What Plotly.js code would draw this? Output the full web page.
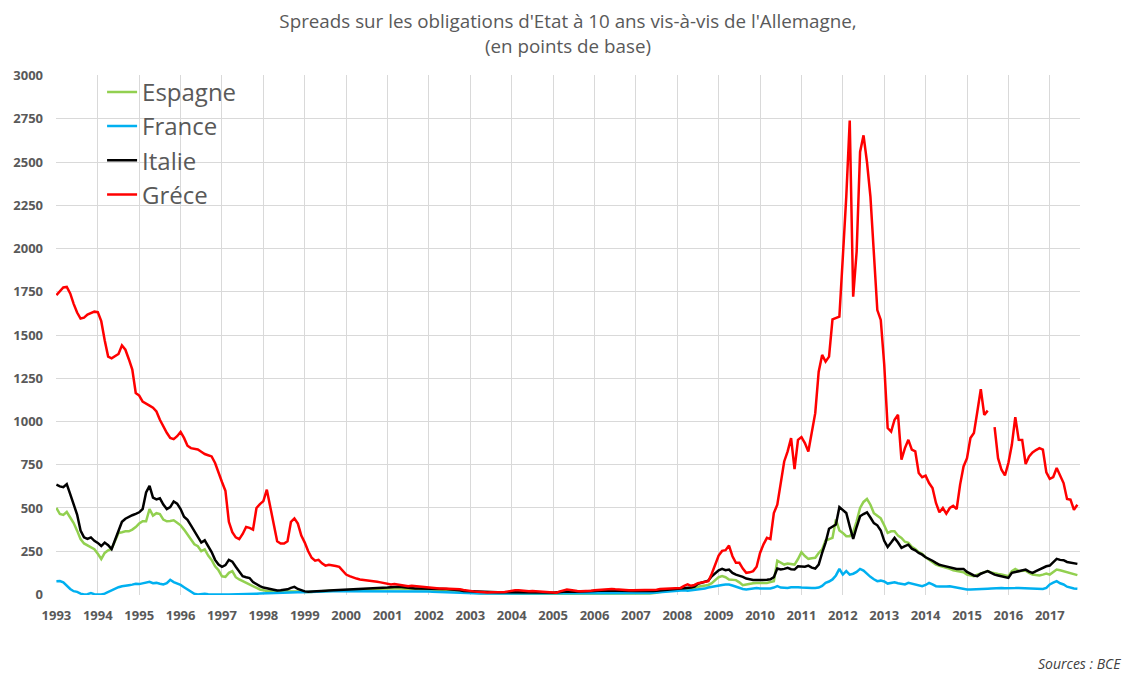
<!DOCTYPE html>
<html>
<head>
<meta charset="utf-8">
<script src="https://cdn.plot.ly/plotly-3.0.1.min.js"></script>
<style>html,body{margin:0;padding:0;background:#fff;}#chart{width:1128px;height:673px;}</style>
</head>
<body>
<div id="chart"></div>
<script>
// Monthly spreads (basis points), January 1993 to September 2017
const seriesNames = ["Espagne", "France", "Italie", "Gréce"];
const yearTicks = [1993,1994,1995,1996,1997,1998,1999,2000,2001,2002,2003,2004,2005,2006,2007,2008,2009,2010,2011,2012,2013,2014,2015,2016,2017];
const valueTicks = [0,250,500,750,1000,1250,1500,1750,2000,2250,2500,2750,3000];

const espagne = [
500,465,460,477,445,413,369,320,295,283,270,262,
235,205,240,255,264,310,356,360,365,365,375,390,
410,423,423,494,456,470,465,433,423,425,429,415,
400,375,346,317,290,279,250,260,225,200,163,140,
105,102,125,135,100,87,78,67,58,48,40,29,
25,19,19,19,19,19,19,20,20,20,19,17,
15,14,15,17,18,18,19,20,20,21,22,22,
22,23,24,25,26,27,28,29,30,31,32,33,
35,36,36,35,34,33,32,31,30,30,29,29,
28,28,27,27,26,26,25,24,22,18,14,12,
10,9,8,7,7,6,6,6,6,6,6,5,
5,5,4,4,4,4,4,3,3,3,2,2,
2,2,2,2,3,2,2,2,1,1,1,1,
2,2,2,2,3,3,2,2,2,2,2,2,
3,3,4,5,6,7,10,15,18,20,22,25,
28,30,33,30,32,35,45,48,50,55,65,80,
100,106,100,87,85,83,70,54,58,63,65,67,
67,67,67,72,77,195,185,173,179,176,173,205,
244,222,206,210,212,240,260,312,320,327,433,370,
356,337,337,360,423,500,535,552,519,470,455,440,
400,356,365,365,340,327,305,298,275,263,245,235,
215,202,185,173,165,160,152,148,140,135,130,129,
115,110,106,115,121,128,135,128,121,118,115,110,
106,135,148,135,136,138,125,115,112,110,115,121,
115,130,144,140,135,128,121,116,112
];

const france = [
77,78,70,48,32,19,15,5,0,2,8,2,
0,0,5,15,25,35,42,48,53,54,57,62,
60,64,68,73,65,67,62,58,65,85,72,65,
55,42,29,12,4,0,2,4,1,0,0,0,
0,0,0,0,0,0,0,1,2,3,4,5,
6,7,8,8,9,10,10,11,12,12,13,13,
14,14,15,15,16,16,17,17,18,18,18,19,
19,19,20,20,20,20,21,21,21,21,21,21,
21,21,21,21,20,20,20,20,19,19,19,18,
17,16,15,14,13,12,11,10,9,8,7,6,
5,5,5,5,5,5,4,4,4,4,4,4,
4,4,4,4,4,4,4,4,4,4,4,4,
4,4,4,4,4,4,4,4,4,4,4,4,
4,4,4,4,4,4,4,4,4,4,4,5,
5,5,6,7,8,10,12,13,14,15,17,18,
20,22,24,22,24,26,28,30,34,40,44,50,
52,55,57,58,52,44,38,32,29,32,36,37,
35,34,33,35,40,48,40,37,38,42,44,42,
40,38,38,37,37,40,50,67,75,87,110,148,
115,135,115,120,130,148,138,118,102,88,77,80,
75,63,67,71,65,60,58,67,62,58,55,48,
55,67,58,48,46,44,46,48,44,40,38,35,
29,29,29,30,31,32,33,34,36,38,37,36,
35,36,37,38,37,35,33,32,30,29,32,38,
58,68,77,65,58,45,38,35,33
];

const italie = [
635,625,620,638,580,520,462,370,330,321,330,310,
298,280,300,285,262,315,370,420,438,450,458,466,
475,494,590,628,560,550,556,520,494,505,538,525,
494,450,432,400,365,330,300,313,280,245,200,173,
160,170,200,190,160,130,106,100,95,72,58,48,
40,35,32,27,23,24,27,30,38,44,32,25,
18,16,18,20,22,22,22,23,24,25,25,25,
24,25,26,27,28,30,32,33,35,36,37,38,
40,42,44,44,43,40,38,36,35,35,34,34,
33,33,33,32,32,32,31,30,28,24,20,19,
18,17,16,14,13,12,12,12,13,13,13,13,
14,15,15,14,13,13,14,15,14,13,12,11,
10,10,14,16,18,17,16,16,17,18,18,19,
20,21,22,23,24,23,22,21,20,20,20,20,
20,20,19,19,20,20,22,24,25,26,28,30,
33,35,38,36,40,45,62,68,75,80,105,125,
140,148,140,144,125,115,110,102,92,87,84,83,
83,83,85,88,100,150,145,148,154,146,144,163,
162,160,167,155,150,173,240,300,380,394,404,505,
490,471,394,321,390,452,465,475,445,413,400,370,
310,275,300,327,300,270,280,288,265,255,240,230,
215,206,195,183,172,167,162,160,152,148,148,148,
130,121,110,106,120,128,135,125,115,110,106,100,
96,125,130,135,140,144,132,125,135,144,155,163,
167,185,206,200,198,188,183,180,177
];

const grece = [
1731,1750,1775,1778,1740,1680,1630,1595,1600,1618,1628,1635,
1632,1580,1470,1375,1365,1378,1390,1440,1415,1360,1300,1165,
1150,1115,1105,1092,1080,1058,1010,970,935,905,898,915,
940,905,860,846,842,838,825,812,805,798,760,700,
650,600,420,360,330,320,350,390,385,375,500,522,
540,606,500,395,308,295,295,308,420,440,410,340,
300,250,212,195,200,180,167,172,170,165,160,140,
115,106,98,92,87,85,83,82,78,74,70,65,
60,58,60,57,55,50,48,50,48,45,42,40,
38,37,36,35,35,34,33,33,33,30,26,22,
19,18,16,14,13,12,13,13,13,13,14,18,
22,24,25,22,20,19,20,19,18,16,15,12,
11,10,18,25,29,26,22,20,19,19,20,22,
24,26,28,30,33,32,30,28,27,26,25,25,
25,24,24,25,25,26,28,32,33,33,36,38,
40,38,50,58,50,55,65,68,70,77,120,170,
225,252,256,283,221,183,183,150,125,128,135,160,
240,290,327,320,471,519,654,769,827,904,725,894,
910,875,827,940,1048,1288,1385,1346,1375,1590,1598,1606,
1950,2300,2740,1721,1981,2558,2654,2500,2300,1990,1644,1587,
1330,962,942,1010,1039,779,846,894,837,827,702,678,
687,644,615,529,475,500,467,500,513,494,635,740,
788,904,933,1058,1187,1038,1063,null,967,788,721,688,
760,865,1025,894,893,754,798,821,835,846,837,706,
669,679,731,683,644,552,548,490,519
];

const seriesValues = [espagne, france, italie, grece];
const seriesColors = ["#92D050", "#00B0F0", "#000000", "#FF0000"];

const traces = seriesNames.map(function (name, k) {
  return {
    type: "scatter",
    mode: "lines",
    name: name,
    legendgroup: name,
    x0: 1993,
    dx: 1 / 12,
    y: seriesValues[k],
    line: { color: seriesColors[k], width: 2.5 },
    connectgaps: false,
    hoverinfo: "skip"
  };
});

const tickFont = { family: "Open Sans", size: 13, color: "#595959", weight: "bold" };

const layout = {
  width: 1128,
  height: 673,
  margin: { l: 56, r: 48, t: 75, b: 78 },
  paper_bgcolor: "#ffffff",
  plot_bgcolor: "#ffffff",
  showlegend: true,
  title: {
    text: "Spreads sur les obligations d'Etat à 10 ans vis-à-vis de l'Allemagne,<br>(en points de base)",
    x: 0.5,
    xref: "paper",
    xanchor: "center",
    y: 0.958,
    yref: "container",
    yanchor: "top",
    font: { family: "Open Sans", size: 18.8, color: "#595959" }
  },
  xaxis: {
    range: [1992.99, 2017.73],
    tickvals: yearTicks,
    ticktext: yearTicks.map(String),
    showgrid: true,
    gridcolor: "#d9d9d9",
    gridwidth: 1,
    zeroline: false,
    showline: false,
    ticks: "",
    ticklabelstandoff: 11,
    tickfont: tickFont
  },
  yaxis: {
    range: [-3, 3003],
    tickvals: valueTicks,
    showgrid: true,
    gridcolor: "#d9d9d9",
    gridwidth: 1,
    zeroline: false,
    showline: false,
    ticks: "",
    ticklabelstandoff: 12,
    tickfont: tickFont
  },
  yaxis2: {
    overlaying: "y",
    side: "right",
    range: [-3, 3003],
    tickvals: valueTicks,
    showgrid: false,
    zeroline: false,
    showline: false,
    ticks: "",
    ticklabelstandoff: 12,
    tickfont: tickFont
  },
  legend: {
    x: 0.045,
    y: 1.010,
    xanchor: "left",
    yanchor: "top",
    bgcolor: "rgba(0,0,0,0)",
    traceorder: "normal",
    tracegroupgap: 5,
    font: { family: "Open Sans", size: 24, color: "#595959" }
  },
  shapes: [{
    type: "rect",
    xref: "paper", yref: "paper",
    x0: 0.002, x1: 0.2197, y0: 0.733, y1: 1.005,
    fillcolor: "#ffffff",
    line: { width: 0 },
    layer: "between"
  }],
  annotations: [{
    text: "Sources : BCE",
    xref: "paper", yref: "paper",
    x: 1.042, y: -0.1308,
    xanchor: "right", yanchor: "middle",
    showarrow: false,
    font: { family: "Open Sans", size: 14, color: "#404040", style: "italic" }
  }]
};

Plotly.newPlot("chart", traces, layout, { displayModeBar: false, staticPlot: true });
</script>
</body>
</html>
